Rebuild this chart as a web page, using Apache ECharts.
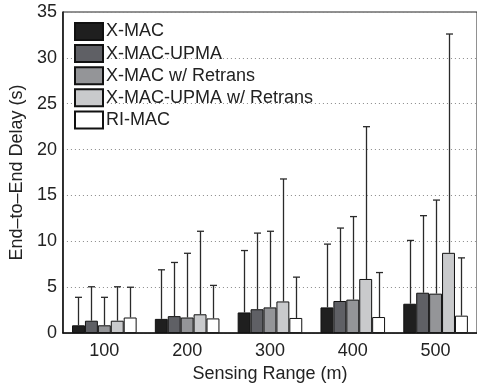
<!DOCTYPE html>
<html>
<head>
<meta charset="utf-8">
<script src="https://cdn.jsdelivr.net/npm/echarts@6/dist/echarts.min.js"></script>
<style>
  html, body { margin: 0; padding: 0; background: #fff; }
  #chart { width: 477px; height: 388px; }
</style>
</head>
<body>
<div id="chart"></div>
<script>
// sensing range categories
const ranges = ['100', '200', '300', '400', '500']
const seriesNames = ['X-MAC', 'X-MAC-UPMA', 'X-MAC w/ Retrans', 'X-MAC-UPMA w/ Retrans', 'RI-MAC']
const colors = ['#1f1f1f', '#5f6065', '#949598', '#c9cacc', '#ffffff']

// mean delay (s)
const xmac = [0.85, 1.55, 2.25, 2.8, 3.2]
const upma = [1.35, 1.85, 2.6, 3.5, 4.4]
const retrans = [0.85, 1.7, 2.8, 3.65, 4.3]
const upmaRetrans = [1.35, 2.05, 3.45, 5.9, 8.75]
const rimac = [1.7, 1.6, 1.65, 1.75, 1.9]

// top of the error bars (s)
const xmacTop = [3.9, 6.9, 9.0, 9.7, 10.1]
const upmaTop = [5.05, 7.7, 10.9, 11.45, 12.8]
const retransTop = [3.9, 8.7, 11.1, 12.7, 14.5]
const upmaRetransTop = [5.05, 11.1, 16.8, 22.5, 32.6]
const rimacTop = [5.0, 5.2, 6.1, 6.6, 8.2]

const means = [xmac, upma, retrans, upmaRetrans, rimac]
const tops = [xmacTop, upmaTop, retransTop, upmaRetransTop, rimacTop]

const CAT_GAP = 0.22
const FONT = 'Liberation Sans, Arial, Helvetica, sans-serif'

const chart = echarts.init(document.getElementById('chart'))

const barSeries = seriesNames.map((name, i) => ({
  name: name,
  type: 'bar',
  barGap: '0%',
  barCategoryGap: CAT_GAP * 100 + '%',
  itemStyle: { color: colors[i], borderColor: '#111', borderWidth: 1 },
  data: means[i]
}))

// error bars: vertical line from the bar top up to the max, with a cap
const errSeries = seriesNames.map((name, i) => ({
  type: 'custom',
  z: 5,
  silent: true,
  encode: { x: 0, y: [1, 2] },
  data: ranges.map((r, k) => [k, means[i][k], tops[i][k]]),
  renderItem: (params, api) => {
    const k = api.value(0)
    const base = api.coord([k, api.value(1)])
    const top = api.coord([k, api.value(2)])
    const band = api.size([1, 0])[0]
    const bw = band * (1 - CAT_GAP) / seriesNames.length
    const x = Math.round(base[0] + (i - 2) * bw) + 0.5
    const style = { stroke: '#2a2a2a', lineWidth: 1.3 }
    return {
      type: 'group',
      children: [
        { type: 'line', shape: { x1: x, y1: base[1], x2: x, y2: top[1] }, style: style },
        { type: 'line', shape: { x1: x - 3.5, y1: top[1], x2: x + 3.5, y2: top[1] }, style: style }
      ]
    }
  }
}))

const option = {
  animation: false,
  textStyle: { fontFamily: FONT },
  grid: {
    left: 60,
    top: 12,
    width: 420,
    height: 331,
    show: true,
    borderColor: '#222',
    borderWidth: 1
  },
  legend: {
    orient: 'vertical',
    left: 69,
    top: 17,
    itemWidth: 28,
    itemHeight: 17,
    itemGap: 3.1,
    icon: 'rect',
    data: seriesNames,
    textStyle: { fontSize: 18, color: '#222', fontFamily: FONT, padding: [0, 0, 0, -2] }
  },
  xAxis: {
    type: 'category',
    data: ranges,
    name: 'Sensing Range (m)',
    nameLocation: 'middle',
    nameGap: 30,
    nameTextStyle: { fontSize: 18, color: '#222' },
    axisLine: { lineStyle: { color: '#111', width: 1.5 } },
    axisTick: { show: false },
    axisLabel: { fontSize: 18, color: '#222', margin: 9 }
  },
  yAxis: {
    type: 'value',
    min: 0,
    max: 35,
    interval: 5,
    name: 'End–to–End Delay (s)',
    nameLocation: 'middle',
    nameGap: 25,
    nameTextStyle: { fontSize: 18, color: '#222' },
    axisLine: { show: true, lineStyle: { color: '#111', width: 1.5 } },
    axisTick: { show: false },
    axisLabel: { fontSize: 18, color: '#222', margin: 6 },
    splitLine: { lineStyle: { type: [1, 3], color: '#888' } }
  },
  series: barSeries.concat(errSeries)
}

chart.setOption(option)
</script>
</body>
</html>
